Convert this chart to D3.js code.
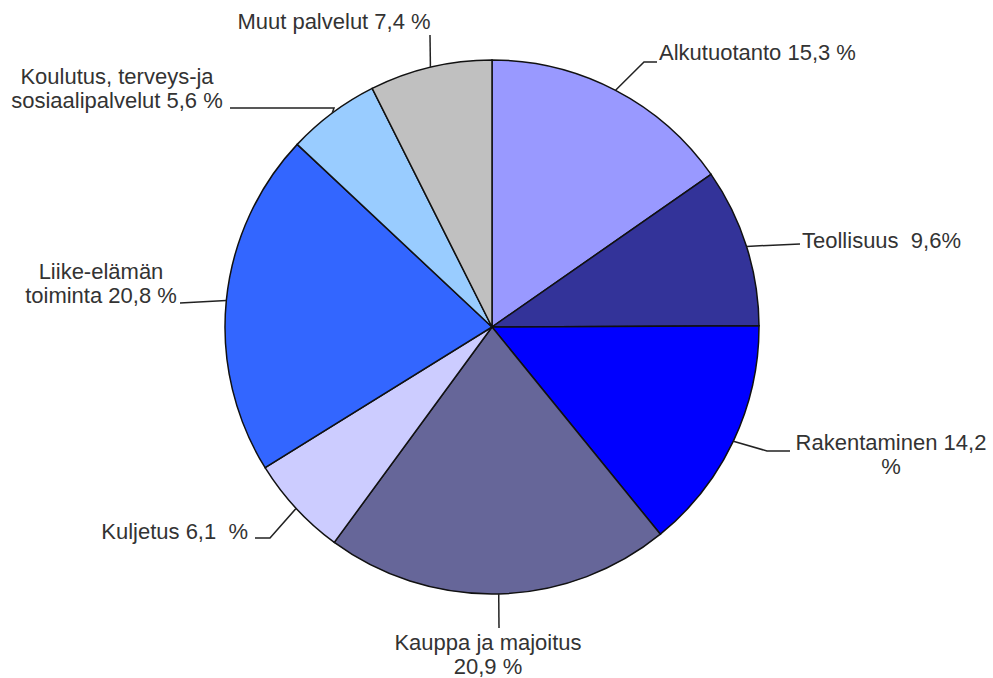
<!DOCTYPE html>
<html><head><meta charset="utf-8">
<script src="https://cdn.jsdelivr.net/npm/d3@7"></script>
<style>html,body{margin:0;padding:0;background:#fff;}svg{display:block;}</style>
</head><body>
<script>
const categories = ["Alkutuotanto","Teollisuus","Rakentaminen","Kauppa ja majoitus","Kuljetus","Liike-elämän toiminta","Koulutus, terveys- ja sosiaalipalvelut","Muut palvelut"];
const values = [15.3, 9.6, 14.2, 20.9, 6.1, 20.8, 5.6, 7.4];
const labelLines = [
  ["Alkutuotanto 15,3 %"],
  ["Teollisuus  9,6%"],
  ["Rakentaminen 14,2", "%"],
  ["Kauppa ja majoitus", "20,9 %"],
  ["Kuljetus 6,1  %"],
  ["Liike-elämän", "toiminta 20,8 %"],
  ["Koulutus, terveys-ja", "sosiaalipalvelut 5,6 %"],
  ["Muut palvelut 7,4 %"]
];
const colors = ["#9999FF","#333399","#0000FF","#666699","#CCCCFF","#3366FF","#99CCFF","#C0C0C0"];

// layout (label anchors and leader-line bends)
const W = 993, H = 678, cx = 492, cy = 327, R = 267;
const labelLayout = [
  {x:659, y:60, anchor:"start", pts:[[644,62],[657,62]]},
  {x:802, y:248, anchor:"start", pts:[[800,244]]},
  {x:891, y:450, anchor:"middle", pts:[[767,451],[790,451]]},
  {x:488, y:650, anchor:"middle", pts:[[499,628]]},
  {x:248, y:539, anchor:"end", pts:[[270,538],[255,538]]},
  {x:101, y:279, anchor:"middle", pts:[[180,303]]},
  {x:117, y:84, anchor:"middle", pts:[[334,108],[230,108]]},
  {x:334, y:29, anchor:"middle", pts:[[430,35]]}
];

const svg = d3.select("body").append("svg").attr("width", W).attr("height", H);
const pie = d3.pie().sort(null).value(d => d);
const arcs = pie(values);
const arc = d3.arc().innerRadius(0).outerRadius(R);
const g = svg.append("g").attr("transform", `translate(${cx},${cy})`);
g.selectAll("path").data(arcs).join("path")
  .attr("d", arc)
  .attr("fill", (d,i) => colors[i])
  .attr("stroke", "#111")
  .attr("stroke-width", 1.5);

const line = d3.line();
arcs.forEach((d, i) => {
  const a = (d.startAngle + d.endAngle) / 2;
  const p0 = [cx + R * Math.sin(a), cy - R * Math.cos(a)];
  const L = labelLayout[i];
  svg.append("path").attr("d", line([p0, ...L.pts]))
    .attr("fill", "none").attr("stroke", "#222").attr("stroke-width", 1.5);
  const t = svg.append("text")
    .attr("x", L.x).attr("y", L.y)
    .attr("text-anchor", L.anchor)
    .attr("font-family", "Liberation Sans, Arial, sans-serif")
    .attr("font-size", 22)
    .attr("fill", "#333")
    .style("white-space", "pre");
  labelLines[i].forEach((s, j) => {
    t.append("tspan").attr("x", L.x).attr("dy", j === 0 ? 0 : 24).text(s);
  });
});
</script>
</body></html>
